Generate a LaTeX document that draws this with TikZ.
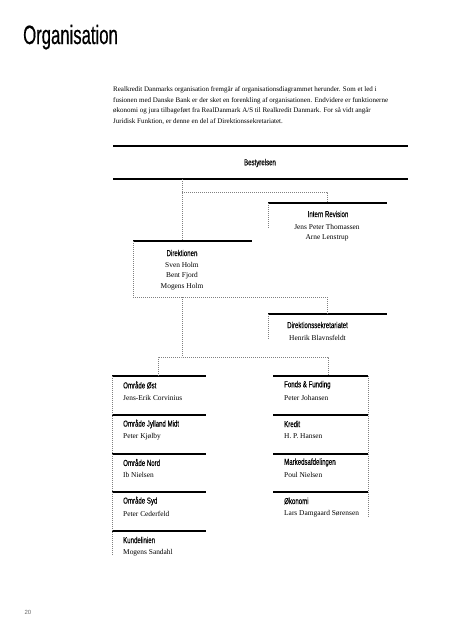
\documentclass[tikz,border=0pt]{standalone}
\usepackage{fontspec}
\setmainfont{Liberation Serif}
\newfontfamily\headfont[FakeStretch=0.7,FakeBold=0.2]{Liberation Sans}
\newfontfamily\titlefont[FakeStretch=0.63,FakeBold=0.5]{Liberation Sans}
\newfontfamily\footfont{Liberation Sans}
\begin{document}
\begin{tikzpicture}[x=1pt,y=-1pt,
  rule/.style={line width=2pt},
  conn/.style={line width=0.4pt, gray, dash pattern=on 1pt off 1pt},
  head/.style={font=\headfont\fontsize{8.7}{10}\selectfont, inner sep=0pt},
  person/.style={font=\fontsize{7.4}{8}\selectfont, inner sep=0pt},
  body/.style={font=\fontsize{7}{9}\selectfont, inner sep=0pt, anchor=base west}]

\useasboundingbox (0,0) rectangle (453,640);

% title and intro
\node[anchor=base west, inner sep=0pt, font=\titlefont\fontsize{26.5}{28}\selectfont] (title) at (23,44) {Organisation};
\node[body] (l1) at (113,91.5) {Realkredit Danmarks organisation fremgår af organisationsdiagrammet herunder. Som et led i};
\node[body] (l2) at (113,102) {fusionen med Danske Bank er der sket en forenkling af organisationen. Endvidere er funktionerne};
\node[body] (l3) at (113,112.5) {økonomi og jura tilbageført fra RealDanmark A/S til Realkredit Danmark. For så vidt angår};
\node[body] (l4) at (113,123) {Juridisk Funktion, er denne en del af Direktionssekretariatet.};

% Bestyrelsen
\coordinate (bTL) at (113,146); \coordinate (bTR) at (408,146);
\coordinate (bBL) at (113,179); \coordinate (bBR) at (408,179);
\draw[rule] (bTL) -- (bTR);
\draw[rule] (bBL) -- (bBR);
\node[head] (best) at (260,163) {Bestyrelsen};
\coordinate (bOut) at (182,179);

% Intern Revision
\coordinate (irL) at (268,203); \coordinate (irR) at (387,203);
\draw[rule] (irL) -- (irR);
\node[head] (ir) at (328,214) {Intern Revision};
\node[person] (ir1) at (327,227) {Jens Peter Thomassen};
\node[person] (ir2) at (327,238) {Arne Lenstrup};
\coordinate (irIn) at (327,203);
\coordinate (irLB) at (268,228);

% Direktionen
\coordinate (dL) at (133,241); \coordinate (dR) at (252,241);
\draw[rule] (dL) -- (dR);
\node[head] (dir) at (182,253) {Direktionen};
\node[person] (d1) at (182,265) {Sven Holm};
\node[person] (d2) at (182,276) {Bent Fjord};
\node[person] (d3) at (182,287) {Mogens Holm};
\coordinate (dIn) at (182,241);
\coordinate (dBL) at (133,297);
\coordinate (dOut) at (182,297);

% Direktionssekretariatet
\coordinate (dsL) at (268,314); \coordinate (dsR) at (387,314);
\draw[rule] (dsL) -- (dsR);
\node[head] (ds) at (317.5,325) {Direktionssekretariatet};
\node[person] (ds1) at (317.5,338) {Henrik Blavnsfeldt};
\coordinate (dsIn) at (327,314);
\coordinate (dsLB) at (268,340);

% connectors, upper part
\coordinate (br1) at (182,192);
\draw[conn] (bOut) -- (dIn);
\draw[conn] (br1) -| (irIn);
\draw[conn] (irL) -- (irLB);
\draw[conn] (dL) -- (dBL) -| (dsIn);
\draw[conn] (dsL) -- (dsLB);

% lower columns
\foreach \i/\y in {1/376,2/415,3/453.5,4/492,5/531}{
  \coordinate (L\i a) at (112,\y); \coordinate (L\i b) at (206,\y);
  \draw[rule] (L\i a) -- (L\i b);
}
\foreach \i/\y in {1/376,2/415,3/453.5,4/492}{
  \coordinate (R\i a) at (273,\y); \coordinate (R\i b) at (368,\y);
  \draw[rule] (R\i a) -- (R\i b);
}

\node[head, anchor=west] (lh1) at (123,385) {Område Øst};
\node[person, anchor=west] (ln1) at (123,398) {Jens-Erik Corvinius};
\node[head, anchor=west] (lh2) at (123,424) {Område Jylland Midt};
\node[person, anchor=west] (ln2) at (123,436.5) {Peter Kjølby};
\node[head, anchor=west] (lh3) at (123,462.5) {Område Nord};
\node[person, anchor=west] (ln3) at (123,475) {Ib Nielsen};
\node[head, anchor=west] (lh4) at (123,501) {Område Syd};
\node[person, anchor=west] (ln4) at (123,513.5) {Peter Cederfeld};
\node[head, anchor=west] (lh5) at (123,540) {Kundelinien};
\node[person, anchor=west] (ln5) at (123,552.5) {Mogens Sandahl};

\node[head, anchor=west] (rh1) at (284,385) {Fonds \& Funding};
\node[person, anchor=west] (rn1) at (284,398) {Peter Johansen};
\node[head, anchor=west] (rh2) at (284,424) {Kredit};
\node[person, anchor=west] (rn2) at (284,436.5) {H. P. Hansen};
\node[head, anchor=west] (rh3) at (284,462.5) {Markedsafdelingen};
\node[person, anchor=west] (rn3) at (284,475) {Poul Nielsen};
\node[head, anchor=west] (rh4) at (284,501) {Økonomi};
\node[person, anchor=west] (rn4) at (284,513.5) {Lars Damgaard Sørensen};

% connectors, lower part
\coordinate (split) at (182,357);
\coordinate (lIn) at (158,376);
\coordinate (rIn) at (328,376);
\coordinate (lEnd) at (112,555);
\coordinate (rEnd) at (368,517);
\draw[conn] (dOut) -- (split);
\draw[conn] (lIn) |- (split) -| (rIn);
\draw[conn] (L1a) -- (lEnd);
\draw[conn] (R1b) -- (rEnd);

% page number
\node[inner sep=0pt, font=\footfont\fontsize{6}{7}\selectfont, text=gray!80!black] (page) at (28,612) {20};
\end{tikzpicture}
\end{document}
